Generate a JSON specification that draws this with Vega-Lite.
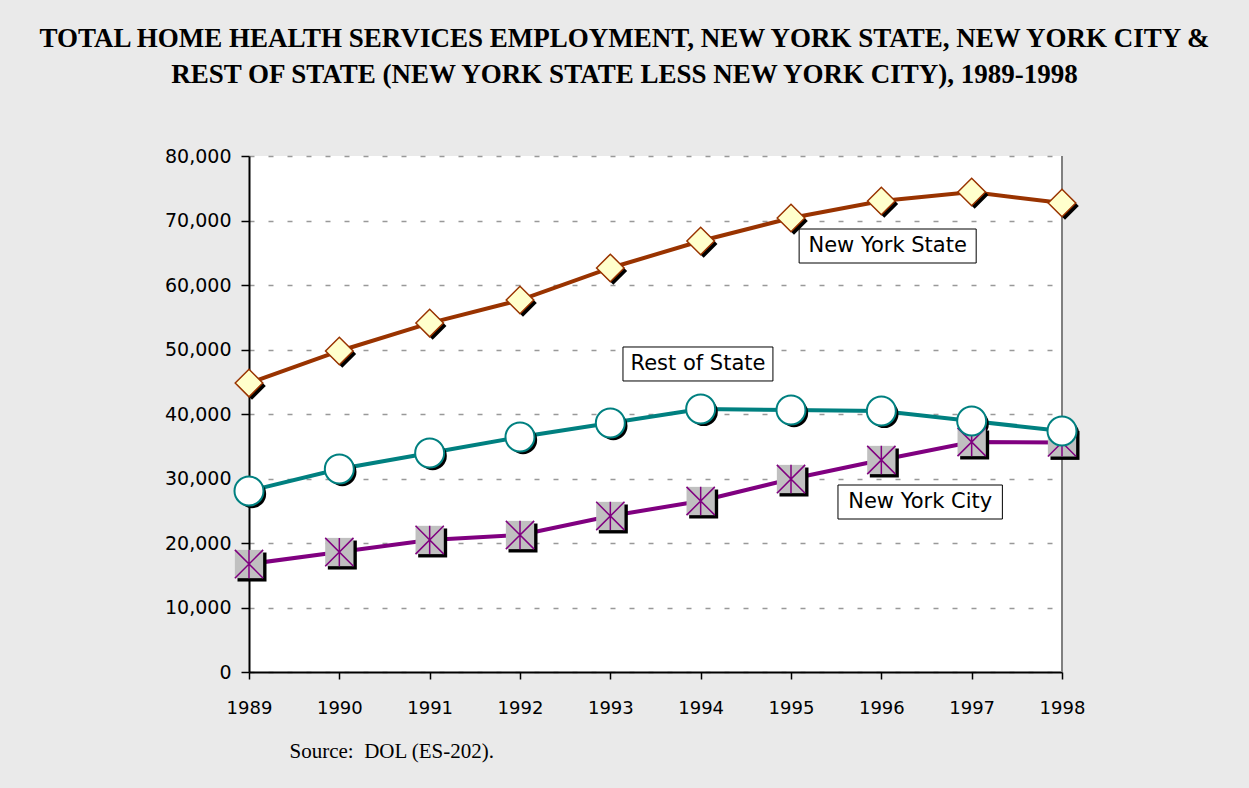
{
  "$schema": "https://vega.github.io/schema/vega-lite/v6.json",
  "autosize": {"type": "none"},
  "width": 813,
  "height": 516,
  "padding": {"left": 249, "top": 156, "right": 187, "bottom": 116},
  "background": "#EAEAEA",
  "config": {
    "view": {"stroke": null, "fill": "white"},
    "axis": {
      "labelFont": "DejaVu Sans",
      "labelColor": "black",
      "domainColor": "black",
      "domainWidth": 2,
      "tickColor": "black",
      "tickWidth": 1.5
    }
  },
  "title": {
    "text": [
      "TOTAL HOME HEALTH SERVICES EMPLOYMENT, NEW YORK STATE, NEW YORK CITY &",
      "REST OF STATE (NEW YORK STATE LESS NEW YORK CITY), 1989-1998"
    ],
    "font": "Liberation Serif",
    "fontWeight": "bold",
    "fontSize": 27,
    "lineHeight": 36,
    "color": "black",
    "anchor": "middle",
    "dx": -31,
    "offset": 58
  },
  "datasets": {
    "series": [
      {"year": 1989, "series": "New York State", "value": 44800},
      {"year": 1990, "series": "New York State", "value": 49770},
      {"year": 1991, "series": "New York State", "value": 54100},
      {"year": 1992, "series": "New York State", "value": 57670},
      {"year": 1993, "series": "New York State", "value": 62640},
      {"year": 1994, "series": "New York State", "value": 66820},
      {"year": 1995, "series": "New York State", "value": 70390},
      {"year": 1996, "series": "New York State", "value": 73020},
      {"year": 1997, "series": "New York State", "value": 74420},
      {"year": 1998, "series": "New York State", "value": 72710},
      {"year": 1989, "series": "New York City", "value": 16740},
      {"year": 1990, "series": "New York City", "value": 18600},
      {"year": 1991, "series": "New York City", "value": 20470},
      {"year": 1992, "series": "New York City", "value": 21240},
      {"year": 1993, "series": "New York City", "value": 24190},
      {"year": 1994, "series": "New York City", "value": 26510},
      {"year": 1995, "series": "New York City", "value": 29920},
      {"year": 1996, "series": "New York City", "value": 32870},
      {"year": 1997, "series": "New York City", "value": 35660},
      {"year": 1998, "series": "New York City", "value": 35600},
      {"year": 1989, "series": "Rest of State", "value": 28060},
      {"year": 1990, "series": "Rest of State", "value": 31470},
      {"year": 1991, "series": "Rest of State", "value": 33950},
      {"year": 1992, "series": "Rest of State", "value": 36430},
      {"year": 1993, "series": "Rest of State", "value": 38600},
      {"year": 1994, "series": "Rest of State", "value": 40780},
      {"year": 1995, "series": "Rest of State", "value": 40620},
      {"year": 1996, "series": "Rest of State", "value": 40470},
      {"year": 1997, "series": "Rest of State", "value": 38920},
      {"year": 1998, "series": "Rest of State", "value": 37360}
    ],
    "labels": [
      {"label": "New York State", "year": 1996.07, "value": 66050, "year_lo": 1995.09, "year_hi": 1997.05, "value_lo": 63410, "value_hi": 68680},
      {"label": "Rest of State", "year": 1993.97, "value": 47750, "year_lo": 1993.14, "year_hi": 1994.80, "value_lo": 45120, "value_hi": 50390},
      {"label": "New York City", "year": 1996.43, "value": 26360, "year_lo": 1995.52, "year_hi": 1997.34, "value_lo": 23720, "value_hi": 28990}
    ]
  },
  "layer": [
    {
      "data": {"name": "series"},
      "mark": {"type": "line", "strokeWidth": 4},
      "encoding": {
        "x": {
          "field": "year", "type": "quantitative",
          "scale": {"domain": [1989, 1998], "nice": false, "zero": false},
          "axis": {
            "values": [1989, 1990, 1991, 1992, 1993, 1994, 1995, 1996, 1997, 1998],
            "format": "d",
            "labelFontSize": 18,
            "labelPadding": 20,
            "labelFlush": false,
            "tickSize": 7,
            "grid": false,
            "title": "Source:\u00a0 DOL (ES-202).",
            "titleFont": "Liberation Serif",
            "titleFontWeight": "normal",
            "titleFontSize": 21,
            "titleColor": "black",
            "titleAlign": "left",
            "titleBaseline": "alphabetic",
            "titleX": 40,
            "titleY": 85
          }
        },
        "y": {
          "field": "value", "type": "quantitative",
          "scale": {"domain": [0, 80000], "nice": false},
          "axis": {
            "values": [0, 10000, 20000, 30000, 40000, 50000, 60000, 70000, 80000],
            "format": ",d",
            "labelFontSize": 19,
            "labelPadding": 10,
            "labelFlush": false,
            "tickSize": 8,
            "grid": true,
            "gridColor": "#999999",
            "gridDash": [5, 14],
            "gridWidth": 1.5,
            "title": null
          }
        },
        "color": {
          "field": "series", "type": "nominal",
          "scale": {"domain": ["New York State", "Rest of State", "New York City"], "range": ["#993300", "#008080", "#800080"]},
          "legend": null
        }
      }
    },
    {
      "data": {"name": "series"},
      "mark": {"type": "rule", "color": "#808080", "strokeWidth": 2},
      "encoding": {"x": {"datum": 1998, "type": "quantitative"}}
    },
    {
      "data": {"name": "labels"},
      "mark": {"type": "rect", "fill": "white", "stroke": "black", "strokeWidth": 1},
      "encoding": {
        "x": {"field": "year_lo", "type": "quantitative"},
        "x2": {"field": "year_hi"},
        "y": {"field": "value_lo", "type": "quantitative"},
        "y2": {"field": "value_hi"}
      }
    },
    {
      "data": {"name": "labels"},
      "mark": {"type": "text", "font": "DejaVu Sans", "fontSize": 21, "color": "black", "align": "center", "baseline": "middle"},
      "encoding": {
        "x": {"field": "year", "type": "quantitative"},
        "y": {"field": "value", "type": "quantitative"},
        "text": {"field": "label"}
      }
    },
    {
      "data": {"name": "series"},
      "mark": {"type": "point", "filled": true, "fill": "black", "opacity": 1, "xOffset": 3, "yOffset": 3, "strokeWidth": 0},
      "encoding": {
        "x": {"field": "year", "type": "quantitative"},
        "y": {"field": "value", "type": "quantitative"},
        "shape": {"field": "series", "type": "nominal", "scale": {"domain": ["New York State", "Rest of State", "New York City"], "range": ["diamond", "circle", "square"]}, "legend": null},
        "size": {"field": "series", "type": "nominal", "scale": {"domain": ["New York State", "Rest of State", "New York City"], "range": [760, 841, 800]}, "legend": null}
      }
    },
    {
      "data": {"name": "series"},
      "transform": [{"filter": "datum.series === 'New York City'"}],
      "mark": {"type": "point", "shape": "square", "filled": true, "fill": "#C0C0C0", "opacity": 1, "strokeWidth": 0, "size": 800},
      "encoding": {
        "x": {"field": "year", "type": "quantitative"},
        "y": {"field": "value", "type": "quantitative"}
      }
    },
    {
      "data": {"name": "series"},
      "transform": [{"filter": "datum.series === 'New York City'"}],
      "mark": {"type": "point", "shape": "M-1,-1L1,1M-1,1L1,-1M0,-1L0,1", "filled": false, "stroke": "#800080", "opacity": 1, "strokeWidth": 1.5, "size": 800},
      "encoding": {
        "x": {"field": "year", "type": "quantitative"},
        "y": {"field": "value", "type": "quantitative"}
      }
    },
    {
      "data": {"name": "series"},
      "transform": [{"filter": "datum.series === 'New York State'"}],
      "mark": {"type": "point", "shape": "diamond", "filled": true, "fill": "#FFFFCC", "stroke": "#993300", "opacity": 1, "strokeWidth": 1.5, "size": 760},
      "encoding": {
        "x": {"field": "year", "type": "quantitative"},
        "y": {"field": "value", "type": "quantitative"}
      }
    },
    {
      "data": {"name": "series"},
      "transform": [{"filter": "datum.series === 'Rest of State'"}],
      "mark": {"type": "point", "shape": "circle", "filled": true, "fill": "white", "stroke": "#008080", "opacity": 1, "strokeWidth": 2, "size": 841},
      "encoding": {
        "x": {"field": "year", "type": "quantitative"},
        "y": {"field": "value", "type": "quantitative"}
      }
    }
  ]
}
